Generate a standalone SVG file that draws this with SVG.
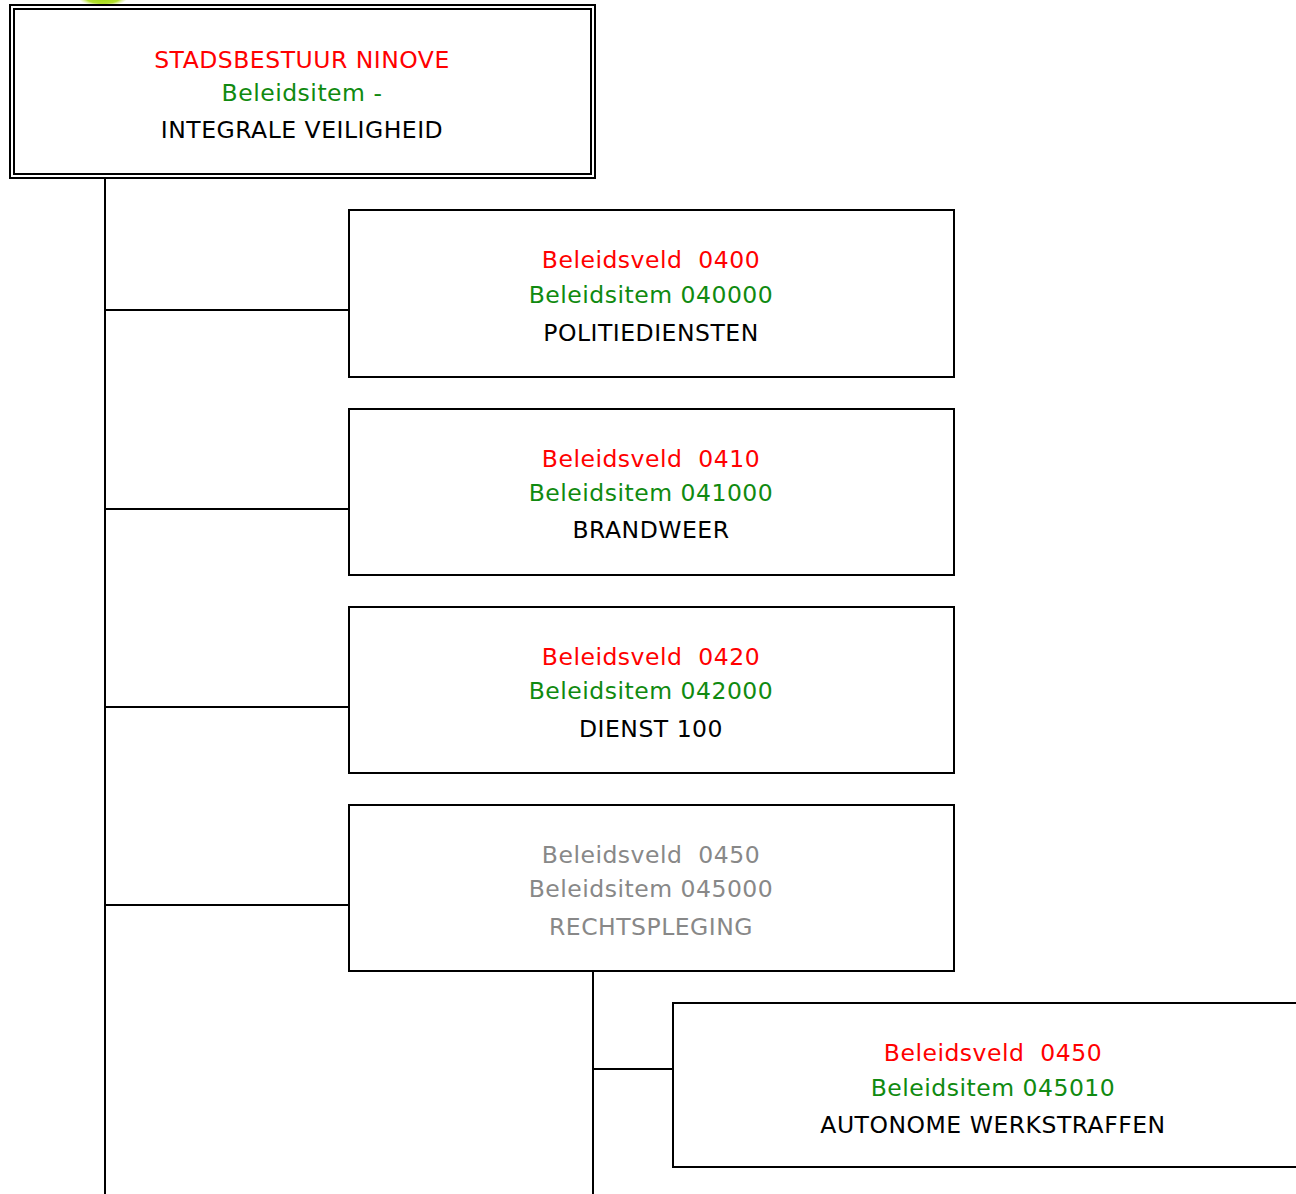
<svg xmlns="http://www.w3.org/2000/svg" width="1296" height="1194" viewBox="0 0 1296 1194">
<defs>
<radialGradient id="blob" cx="50%" cy="50%" r="50%">
<stop offset="0" stop-color="#9ed80a"/>
<stop offset="0.7" stop-color="#b4e030"/>
<stop offset="1" stop-color="#e8f6b0" stop-opacity="0.3"/>
</radialGradient>
<style>
.box{fill:#fff;stroke:#000;stroke-width:2}
.ln{stroke:#000;stroke-width:2;fill:none}
text{font-family:"DejaVu Sans","Verdana",sans-serif;font-size:23.5px;text-anchor:middle;letter-spacing:0.5px;white-space:pre}
.r{fill:#ff0000}.g{fill:#108a10}.k{fill:#000}.gr{fill:#888}
</style>
</defs>
<rect width="1296" height="1194" fill="#fff"/>
<ellipse cx="103" cy="-2" rx="24" ry="8" fill="url(#blob)"/>
<g id="connectors">
<path class="ln" d="M105 179V1194M105 310H349M105 509H349M105 707H349M105 905H349M593 971V1194M593 1069H673"/>
</g>
<g id="root">
<rect x="10" y="5" width="585" height="173" fill="#fff" stroke="#000" stroke-width="2"/>
<rect x="14" y="9" width="577" height="165" fill="none" stroke="#000" stroke-width="2"/>
<text x="302" y="68" class="r">STADSBESTUUR NINOVE</text>
<text x="302" y="101" class="g">Beleidsitem -</text>
<text x="302" y="138" class="k">INTEGRALE VEILIGHEID</text>
</g>
<g id="n0400">
<rect class="box" x="349" y="210" width="605" height="167"/>
<text x="651" y="268" class="r" xml:space="preserve">Beleidsveld  0400</text>
<text x="651" y="303" class="g">Beleidsitem 040000</text>
<text x="651" y="341" class="k">POLITIEDIENSTEN</text>
</g>
<g id="n0410">
<rect class="box" x="349" y="409" width="605" height="166"/>
<text x="651" y="467" class="r" xml:space="preserve">Beleidsveld  0410</text>
<text x="651" y="501" class="g">Beleidsitem 041000</text>
<text x="651" y="538" class="k">BRANDWEER</text>
</g>
<g id="n0420">
<rect class="box" x="349" y="607" width="605" height="166"/>
<text x="651" y="665" class="r" xml:space="preserve">Beleidsveld  0420</text>
<text x="651" y="699" class="g">Beleidsitem 042000</text>
<text x="651" y="737" class="k">DIENST 100</text>
</g>
<g id="n0450">
<rect class="box" x="349" y="805" width="605" height="166"/>
<text x="651" y="863" class="gr" xml:space="preserve">Beleidsveld  0450</text>
<text x="651" y="897" class="gr">Beleidsitem 045000</text>
<text x="651" y="935" class="gr">RECHTSPLEGING</text>
</g>
<g id="n045010">
<rect class="box" x="673" y="1003" width="640" height="164"/>
<text x="993" y="1061" class="r" xml:space="preserve">Beleidsveld  0450</text>
<text x="993" y="1096" class="g">Beleidsitem 045010</text>
<text x="993" y="1133" class="k">AUTONOME WERKSTRAFFEN</text>
</g>
</svg>
